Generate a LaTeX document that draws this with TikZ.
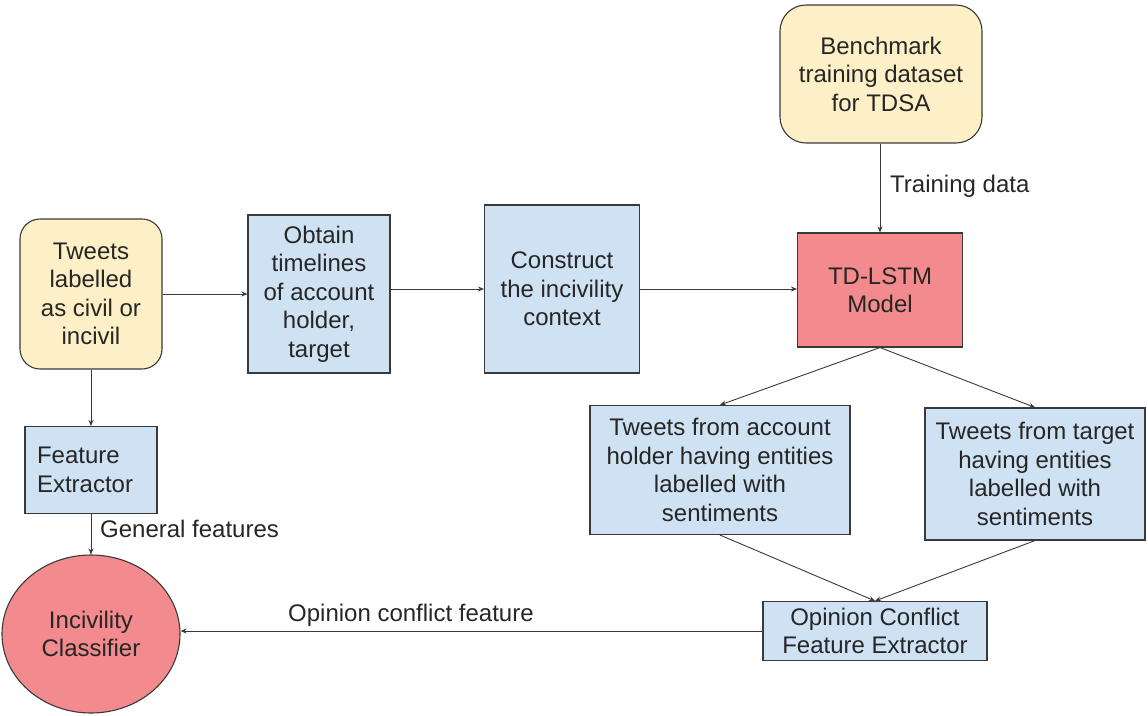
\documentclass[tikz,border=0pt]{standalone}
\usepackage{fontspec}
\setmainfont{Liberation Sans}
\usetikzlibrary{shapes.geometric,arrows.meta}
\definecolor{yel}{HTML}{FDF0C6}
\definecolor{blu}{HTML}{CFE2F3}
\definecolor{redf}{HTML}{F38A8D}
\definecolor{edge}{HTML}{3A3A3A}
\definecolor{txt}{HTML}{262626}
\begin{document}
\begin{tikzpicture}[x=1pt,y=-1pt,
  base/.style={draw=edge,line width=1.1pt,text=txt,align=center,inner sep=2pt,
    font=\fontsize{24}{28.5}\selectfont},
  ybox/.style={base,fill=yel,rounded corners=20pt},
  bbox/.style={base,fill=blu},
  rbox/.style={base,fill=redf},
  conn/.style={draw=edge,line width=0.9pt,-{Stealth[length=6pt,width=5pt]}},
  lbl/.style={text=txt,anchor=west,inner sep=0pt,font=\fontsize{24}{28.5}\selectfont}]
\useasboundingbox (0,0) rectangle (1148,715);
\node[ybox,minimum width=142pt,minimum height=150pt] (tweets) at (91,294) {Tweets\\labelled\\as civil or\\incivil};
\node[bbox,minimum width=142pt,minimum height=158pt] (obtain) at (319,294) {Obtain\\timelines\\of account\\holder,\\target};
\node[bbox,minimum width=155pt,minimum height=168pt] (construct) at (562,289) {Construct\\the incivility\\context};
\node[rbox,minimum width=165pt,minimum height=114pt] (td) at (880,290) {TD-LSTM\\Model};
\node[ybox,rounded corners=26pt,minimum width=202pt,minimum height=138pt] (bench) at (881,74) {Benchmark\\training dataset\\for TDSA};
\node[bbox,minimum width=132pt,minimum height=87pt,text width=108pt,align=left,inner xsep=12pt] (feat) at (91,470) {Feature\\Extractor};
\node[base,ellipse,fill=redf,minimum width=178pt,minimum height=158pt,inner sep=0pt] (circ) at (91,634) {Incivility\\Classifier};
\node[bbox,minimum width=260pt,minimum height=129pt] (acc) at (720,470) {Tweets from account\\holder having entities\\labelled with\\sentiments};
\node[bbox,minimum width=220pt,minimum height=132pt] (tgt) at (1035,474) {Tweets from target\\having entities\\labelled with\\sentiments};
\node[bbox,minimum width=224pt,minimum height=59pt] (op) at (875,631) {Opinion Conflict\\Feature Extractor};
\draw[conn] (tweets.east) -- (tweets.east -| obtain.west);
\draw[conn] (obtain.east |- construct) -- (construct.west);
\draw[conn] (construct.east) -- (construct.east -| td.west);
\draw[conn] (bench.south -| td.north) -- (td.north);
\draw[conn] (tweets.south) -- (feat.north);
\draw[conn] (feat.south) -- (circ.north);
\draw[conn] (td.south) -- (acc.north);
\draw[conn] (td.south) -- (tgt.north);
\draw[conn] (acc.south) -- (op.north);
\draw[conn] (tgt.south) -- (op.north);
\draw[conn] (op.west) -- (op.west -| circ.east);
\node[lbl] (l1) at (890,186) {Training data};
\node[lbl] (l2) at (100,529) {General features};
\node[lbl] (l3) at (288,615) {Opinion conflict feature};
\end{tikzpicture}
\end{document}
